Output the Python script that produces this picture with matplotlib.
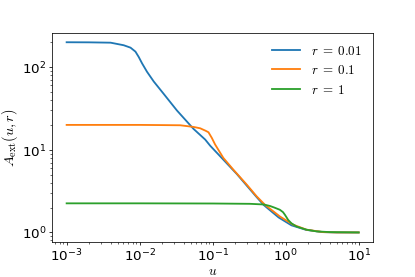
import matplotlib
matplotlib.use("Agg")
import matplotlib.pyplot as plt

plt.rcParams['mathtext.fontset'] = 'cm'
plt.rcParams['font.family'] = ['DejaVu Sans']

# r = 0.01
u_r001 = [0.001, 0.002, 0.004, 0.00605, 0.0075, 0.00876, 0.0097, 0.0108, 0.0126,
          0.0156, 0.0213, 0.0324, 0.0547, 0.079, 0.0925, 0.14, 0.214, 0.3, 0.4,
          0.5, 0.8, 1.2, 1.9, 3.2, 5.0, 10.0]
A_r001 = [200, 199.5, 197.6, 184, 172, 154, 133, 111, 88,
          67, 47.6, 29.9, 17.9, 13.3, 11.2, 7.6, 5.1, 3.6, 2.68,
          2.15, 1.52, 1.22, 1.075, 1.01, 1.0, 1.0]

# r = 0.1
u_r01 = [0.001, 0.01, 0.02, 0.036, 0.0547, 0.0675, 0.08, 0.0876, 0.0975, 0.108,
         0.14, 0.192, 0.293, 0.401, 0.521, 0.834, 1.27, 1.93, 3.26, 5.0, 10.0]
A_r01 = [20, 20, 19.9, 19.8, 18.9, 18.2, 17.0, 16.3, 13.9, 11.6,
         7.98, 5.75, 3.79, 2.73, 2.16, 1.56, 1.24, 1.08, 1.01, 1.0, 1.0]

# r = 1
u_r1 = [0.001, 0.01, 0.1, 0.325, 0.5, 0.61, 0.7, 0.834, 0.92, 0.975, 1.03,
        1.08, 1.2, 1.41, 1.93, 2.65, 4.0, 10.0]
A_r1 = [2.25, 2.25, 2.24, 2.22, 2.18, 2.09, 2.0, 1.88, 1.76, 1.64, 1.52,
        1.42, 1.29, 1.18, 1.08, 1.03, 1.01, 1.0]

labels = [r'$r\;=\;0.01$', r'$r\;=\;0.1$', r'$r\;=\;1$']

dpi = 69.25
fig = plt.figure(figsize=(415.3 / dpi, 277.3 / dpi), dpi=dpi)
ax = fig.add_axes([52 / 415, 1 - 242 / 277, (373 - 52) / 415, (242 - 33) / 277])

ax.plot(u_r001, A_r001, color='tab:blue', lw=1.9, label=labels[0])
ax.plot(u_r01, A_r01, color='tab:orange', lw=1.9, label=labels[1])
ax.plot(u_r1, A_r1, color='tab:green', lw=1.9, label=labels[2])

ax.set_xscale('log')
ax.set_yscale('log')
ax.set_xlabel(r'$u$', fontsize=14, labelpad=0)
ax.set_ylabel(r'$A_{\rm ext}(u,r)$', fontsize=15, labelpad=2)
ax.tick_params(labelsize=14, pad=2.5)
ax.legend(frameon=False, loc='upper right', fontsize=13.5, handlelength=2.2)

fig.savefig('out.png', dpi=dpi)
